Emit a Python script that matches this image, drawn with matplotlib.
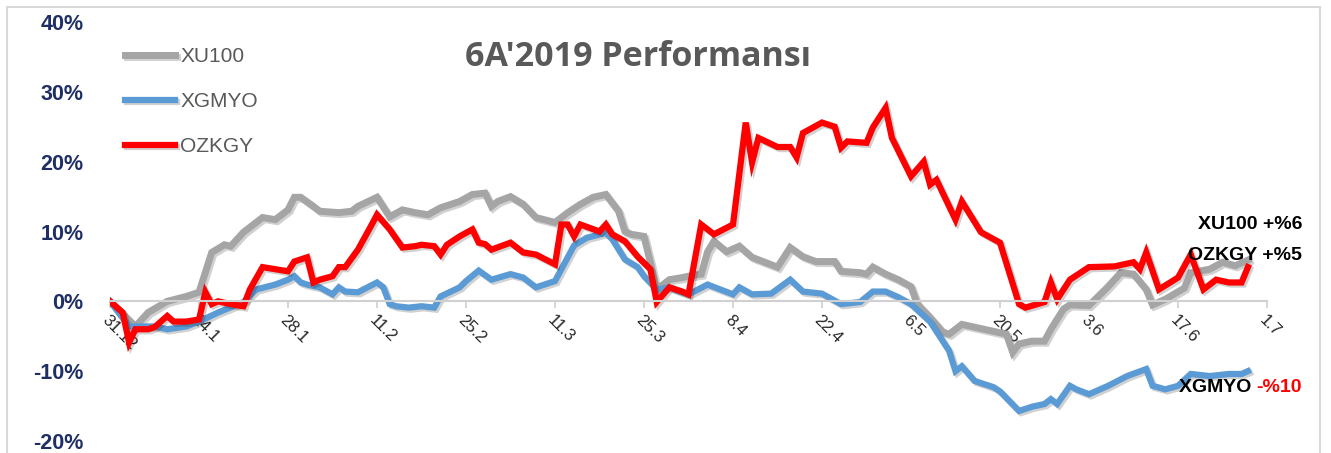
import pandas as pd
import matplotlib
matplotlib.use("Agg")
import matplotlib.pyplot as plt
import matplotlib.patheffects as pe
from matplotlib.patches import Rectangle
from matplotlib.ticker import FuncFormatter

plt.rcParams["axes.unicode_minus"] = False
plt.rcParams["font.family"] = ["Liberation Sans", "DejaVu Sans"]

# --- data (cumulative return, %) ---
xu100_dates = [
    "2018-12-31", "2019-01-04", "2019-01-06", "2019-01-09", "2019-01-12", "2019-01-14",
    "2019-01-16", "2019-01-18", "2019-01-19", "2019-01-21", "2019-01-22", "2019-01-24",
    "2019-01-26", "2019-01-28", "2019-01-29", "2019-01-30", "2019-02-01", "2019-02-02",
    "2019-02-05", "2019-02-07", "2019-02-08", "2019-02-11", "2019-02-12", "2019-02-13",
    "2019-02-15", "2019-02-17", "2019-02-19", "2019-02-21", "2019-02-24", "2019-02-26",
    "2019-02-28", "2019-03-01", "2019-03-02", "2019-03-04", "2019-03-06", "2019-03-08",
    "2019-03-11", "2019-03-13", "2019-03-15", "2019-03-17", "2019-03-19", "2019-03-20",
    "2019-03-21", "2019-03-22", "2019-03-23", "2019-03-25", "2019-03-26", "2019-03-27",
    "2019-03-29", "2019-03-31", "2019-04-01", "2019-04-03", "2019-04-04", "2019-04-05",
    "2019-04-07", "2019-04-09", "2019-04-11", "2019-04-13", "2019-04-15", "2019-04-17",
    "2019-04-19", "2019-04-21", "2019-04-24", "2019-04-25", "2019-04-28", "2019-04-29",
    "2019-04-30", "2019-05-02", "2019-05-04", "2019-05-06", "2019-05-07", "2019-05-09",
    "2019-05-11", "2019-05-12", "2019-05-14", "2019-05-16", "2019-05-19", "2019-05-21",
    "2019-05-22", "2019-05-23", "2019-05-25", "2019-05-27", "2019-05-28", "2019-05-30",
    "2019-05-31", "2019-06-03", "2019-06-06", "2019-06-08", "2019-06-10", "2019-06-12",
    "2019-06-13", "2019-06-15", "2019-06-18", "2019-06-19", "2019-06-22", "2019-06-24",
    "2019-06-26", "2019-06-28",
]
xu100_vals = [
    0, -3.6, -1.6, 0.0, 0.7, 1.3,
    7.0, 8.1, 7.9, 9.9, 10.6, 12.0,
    11.7, 13.1, 14.9, 14.9, 13.6, 12.9,
    12.7, 12.9, 13.6, 14.9, 13.5, 12.1,
    13.1, 12.7, 12.4, 13.4, 14.3, 15.3,
    15.5, 13.6, 14.3, 15.0, 13.9, 12.0,
    11.3, 12.7, 13.9, 14.9, 15.3, 14.1,
    12.9, 10.0, 9.6, 9.3, 5.6, 1.7,
    3.1, 3.4, 3.6, 3.9, 7.1, 8.6,
    7.1, 7.9, 6.3, 5.6, 4.9, 7.7,
    6.4, 5.7, 5.7, 4.3, 4.1, 3.9,
    4.9, 3.9, 3.1, 2.1, -0.4, -2.3,
    -4.4, -4.7, -3.3, -3.7, -4.3, -4.7,
    -7.3, -6.1, -5.7, -5.7, -4.0, -1.1,
    -0.5, -0.6, 2.1, 4.1, 3.9, 1.7,
    -0.5, 0.3, 1.9, 4.1, 4.6, 5.6,
    5.1, 5.9,
]

xgmyo_dates = [
    "2018-12-31", "2019-01-03", "2019-01-05", "2019-01-07", "2019-01-09", "2019-01-12",
    "2019-01-14", "2019-01-17", "2019-01-21", "2019-01-23", "2019-01-26", "2019-01-28",
    "2019-01-29", "2019-01-30", "2019-01-31", "2019-02-02", "2019-02-04", "2019-02-05",
    "2019-02-06", "2019-02-08", "2019-02-11", "2019-02-12", "2019-02-13", "2019-02-14",
    "2019-02-16", "2019-02-18", "2019-02-20", "2019-02-21", "2019-02-24", "2019-02-25",
    "2019-02-27", "2019-03-01", "2019-03-04", "2019-03-06", "2019-03-08", "2019-03-11",
    "2019-03-12", "2019-03-14", "2019-03-16", "2019-03-19", "2019-03-20", "2019-03-22",
    "2019-03-24", "2019-03-25", "2019-03-27", "2019-03-29", "2019-03-31", "2019-04-01",
    "2019-04-04", "2019-04-08", "2019-04-09", "2019-04-11", "2019-04-14", "2019-04-17",
    "2019-04-19", "2019-04-22", "2019-04-25", "2019-04-28", "2019-04-30", "2019-05-02",
    "2019-05-04", "2019-05-06", "2019-05-09", "2019-05-10", "2019-05-12", "2019-05-13",
    "2019-05-14", "2019-05-16", "2019-05-19", "2019-05-20", "2019-05-23", "2019-05-25",
    "2019-05-27", "2019-05-28", "2019-05-29", "2019-05-31", "2019-06-01", "2019-06-03",
    "2019-06-06", "2019-06-09", "2019-06-12", "2019-06-13", "2019-06-15", "2019-06-17",
    "2019-06-19", "2019-06-22", "2019-06-25", "2019-06-27", "2019-06-28",
]
xgmyo_vals = [
    0, -3.6, -3.6, -3.6, -4.0, -3.6,
    -2.9, -1.6, -0.1, 1.7, 2.4, 3.1,
    3.6, 2.7, 2.4, 2.0, 1.0, 2.0,
    1.4, 1.3, 2.7, 2.0, -0.4, -0.7,
    -0.9, -0.7, -0.9, 0.7, 2.0, 2.9,
    4.4, 3.1, 3.9, 3.4, 2.0, 2.9,
    4.6, 8.0, 9.1, 9.8, 8.9, 6.0,
    4.9, 3.6, 1.7, 2.0, 1.3, 1.0,
    2.4, 1.0, 2.0, 1.0, 1.1, 3.1,
    1.4, 1.1, -0.4, -0.1, 1.4, 1.4,
    0.6, -0.4, -2.9, -4.3, -7.1, -10.0,
    -9.3, -11.4, -12.3, -12.9, -15.7, -15.1,
    -14.7, -14.0, -14.7, -12.1, -12.6, -13.3,
    -12.1, -10.7, -9.7, -12.1, -12.6, -12.1,
    -10.4, -10.7, -10.4, -10.4, -10.0,
]

ozkgy_dates = [
    "2018-12-31", "2019-01-02", "2019-01-03", "2019-01-04", "2019-01-06", "2019-01-07",
    "2019-01-09", "2019-01-10", "2019-01-12", "2019-01-14", "2019-01-15", "2019-01-16",
    "2019-01-17", "2019-01-19", "2019-01-21", "2019-01-22", "2019-01-24", "2019-01-26",
    "2019-01-28", "2019-01-29", "2019-01-31", "2019-02-01", "2019-02-02", "2019-02-04",
    "2019-02-05", "2019-02-06", "2019-02-08", "2019-02-10", "2019-02-11", "2019-02-13",
    "2019-02-15", "2019-02-17", "2019-02-18", "2019-02-20", "2019-02-21", "2019-02-22",
    "2019-02-24", "2019-02-26", "2019-02-27", "2019-02-28", "2019-03-01", "2019-03-04",
    "2019-03-06", "2019-03-08", "2019-03-11", "2019-03-12", "2019-03-13", "2019-03-14",
    "2019-03-15", "2019-03-18", "2019-03-19", "2019-03-20", "2019-03-22", "2019-03-24",
    "2019-03-26", "2019-03-27", "2019-03-29", "2019-03-31", "2019-04-01", "2019-04-03",
    "2019-04-05", "2019-04-08", "2019-04-10", "2019-04-11", "2019-04-12", "2019-04-15",
    "2019-04-17", "2019-04-18", "2019-04-19", "2019-04-22", "2019-04-24", "2019-04-25",
    "2019-04-26", "2019-04-29", "2019-04-30", "2019-05-02", "2019-05-03", "2019-05-06",
    "2019-05-08", "2019-05-09", "2019-05-10", "2019-05-13", "2019-05-14", "2019-05-17",
    "2019-05-20", "2019-05-23", "2019-05-24", "2019-05-27", "2019-05-28", "2019-05-29",
    "2019-05-31", "2019-06-03", "2019-06-07", "2019-06-10", "2019-06-11", "2019-06-12",
    "2019-06-14", "2019-06-17", "2019-06-19", "2019-06-21", "2019-06-23", "2019-06-25",
    "2019-06-27", "2019-06-28",
]
ozkgy_vals = [
    0, -1.6, -5.9, -4.0, -4.0, -3.7,
    -2.1, -2.9, -2.9, -2.6, 1.3, -0.4,
    0.0, -0.4, -0.7, 1.7, 4.9, 4.6,
    4.3, 5.7, 6.3, 2.7, 3.1, 3.6,
    4.9, 4.9, 7.4, 10.7, 12.4, 10.3,
    7.7, 7.9, 8.1, 7.9, 6.7, 8.1,
    9.3, 10.3, 8.4, 8.2, 7.4, 8.4,
    7.0, 6.7, 5.3, 11.0, 11.0, 9.3,
    11.0, 10.0, 11.0, 9.6, 8.6, 6.4,
    4.6, -0.1, 2.0, 1.4, 1.0, 11.0,
    9.6, 11.0, 25.6, 19.9, 23.4, 22.1,
    22.1, 20.6, 24.1, 25.6, 25.0, 22.0,
    22.9, 22.7, 24.9, 27.7, 23.4, 17.9,
    20.0, 16.7, 17.4, 11.7, 14.3, 9.9,
    8.4, -0.4, -0.9, -0.1, 2.7, 0.3,
    3.1, 4.9, 5.0, 5.6, 4.6, 7.0,
    1.7, 3.4, 6.7, 1.7, 3.1, 2.7,
    2.7, 4.9,
]

series_names = ["XU100", "XGMYO", "OZKGY"]
series_colors = ["#a5a5a5", "#5b9bd5", "#ff0000"]
series_widths = [5.0, 4.5, 4.5]
end_labels = ["XU100 +%6", "OZKGY +%5"]
title = "6A'2019 Performansı"

W, H = 1331, 453
fig = plt.figure(figsize=(W / 100, H / 100), dpi=100)
ax = fig.add_axes([110 / W, 1 - 441 / H, (1267 - 110) / W, (441 - 22) / H])

shadow = [pe.SimpleLineShadow(offset=(1.5, -1.5), alpha=0.18, shadow_color="k"), pe.Normal()]
for name, dates, vals, col, lw in zip(
    series_names,
    [xu100_dates, xgmyo_dates, ozkgy_dates],
    [xu100_vals, xgmyo_vals, ozkgy_vals],
    series_colors,
    series_widths,
):
    ax.plot(pd.to_datetime(dates), vals, color=col, lw=lw, label=name,
            solid_joinstyle="miter", path_effects=shadow)

ax.set_ylim(-20, 40)
ax.set_xlim(pd.Timestamp("2018-12-31"), pd.Timestamp("2019-07-01"))
ax.set_yticks([-20, -10, 0, 10, 20, 30, 40])
ax.yaxis.set_major_formatter(FuncFormatter(lambda v, p: f"{v:.0f}%"))

xt = pd.date_range("2018-12-31", "2019-07-01", freq="14D")
ax.set_xticks(xt)
ax.set_xticklabels([f"{d.day}.{d.month}" for d in xt])

for s in ["left", "top", "right"]:
    ax.spines[s].set_visible(False)
ax.spines["bottom"].set_position(("data", 0))
ax.spines["bottom"].set_color("#d0d0d0")
ax.spines["bottom"].set_linewidth(1.5)
ax.tick_params(axis="x", direction="out", length=5, color="#d0d0d0", width=1.2,
               pad=3, labelsize=12, labelcolor="#262626", labelrotation=-45)
ax.tick_params(axis="y", length=0, pad=19, labelsize=15.5, labelcolor="#1f2f66")
fig.canvas.draw()
for lab in ax.get_xticklabels():
    lab.set_ha("left")
    lab.set_va("top")
    lab.set_rotation_mode("anchor")
for lab in ax.get_yticklabels():
    lab.set_fontweight("bold")

leg = ax.legend(loc="upper left", bbox_to_anchor=(125 / W, 1 - 47 / H),
                bbox_transform=fig.transFigure, frameon=False, borderpad=0,
                borderaxespad=0, handlelength=2.4, handletextpad=0.25,
                labelspacing=1.25, fontsize=15)
for t in leg.get_texts():
    t.set_color("#595959")

fig.text(638 / W, 1 - 57 / H, title, ha="center", va="center", fontsize=24.5,
         fontweight="bold", color="#595959", family=["Open Sans", "DejaVu Sans"])

fig.text(1302 / W, 1 - 224 / H, end_labels[0], ha="right", va="center",
         fontsize=14, fontweight="bold", color="black")
fig.text(1302 / W, 1 - 255 / H, end_labels[1], ha="right", va="center",
         fontsize=14, fontweight="bold", color="black")
neg = fig.text(1302 / W, 1 - 388 / H, "-%10", ha="right", va="center",
               fontsize=14, fontweight="bold", color="#ff0000")
fig.canvas.draw()
ax.annotate("XGMYO ", xy=(0, 0.5), xycoords=neg, ha="right", va="center",
            fontsize=14, fontweight="bold", color="black")

fig.add_artist(Rectangle((7 / W, -0.1), (1320 - 7) / W, 1.1 - 7 / H,
                         transform=fig.transFigure, fill=False,
                         ec="#d9d9d9", lw=1.5))

fig.savefig("out.png", dpi=100)
